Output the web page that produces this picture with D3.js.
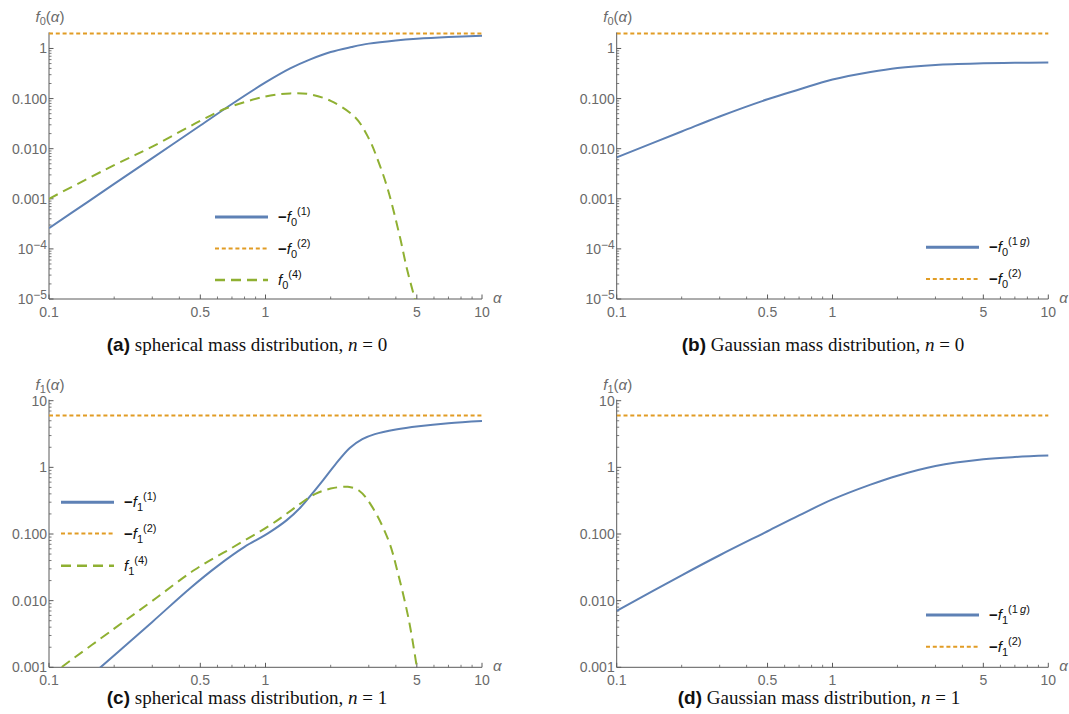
<!DOCTYPE html>
<html>
<head>
<meta charset="utf-8">
<script src="https://cdn.jsdelivr.net/npm/d3@7.8.5/dist/d3.min.js"></script>
<style>
  body { margin: 0; background: #fff; }
  svg { display: block; }
  .tick-label { font-family: 'Liberation Sans', Arial, sans-serif; font-size: 14px; fill: #6a6a6a; }
  .axis-name { font-family: 'Liberation Sans', Arial, sans-serif; font-size: 15px; fill: #6a6a6a; }
  .legend-text { font-family: 'Liberation Sans', Arial, sans-serif; font-size: 15px; fill: #111; }
  .caption { font-family: 'Liberation Serif', 'Times New Roman', serif; font-size: 19px; fill: #111; }
</style>
</head>
<body>
<svg id="fig" width="1069" height="714"></svg>
<script>
// ---- values ----
const alphaTicks = [0.1, 0.5, 1, 5, 10];
const alphaTickLabels = ["0.1", "0.5", "1", "5", "10"];
const yTicksN0 = [1e-5, 1e-4, 1e-3, 1e-2, 1e-1, 1];
const yTickLabelsN0 = ["10^-5", "10^-4", "0.001", "0.010", "0.100", "1"];
const yTicksN1 = [1e-3, 1e-2, 1e-1, 1, 10];
const yTickLabelsN1 = ["0.001", "0.010", "0.100", "1", "10"];

// (a) spherical, n = 0
const sphN0Alpha = [0.1, 0.15, 0.2, 0.3, 0.5, 0.7, 1, 1.3, 1.6, 2, 2.5, 3, 4, 5, 7, 10];
const sphN0F1    = [2.6e-4, 8.5e-4, 1.98e-3, 6.5e-3, 0.029, 0.078, 0.21, 0.4, 0.6, 0.85, 1.07, 1.25, 1.45, 1.57, 1.7, 1.8];
const sphN0F4Alpha = [0.1, 0.2, 0.3, 0.5, 0.66, 1, 1.3, 1.6, 2, 2.6, 3, 3.3, 3.68, 4.18, 4.5, 4.9];
const sphN0F4      = [0.001, 0.0047, 0.011, 0.036, 0.064, 0.11, 0.127, 0.122, 0.09, 0.042, 0.016, 0.006, 0.0015, 1.7e-4, 4e-5, 1e-5];
const sphN0F2 = 2;

// (b) Gaussian, n = 0
const gauN0Alpha = [0.1, 0.2, 0.3, 0.5, 0.7, 1, 1.5, 2, 3, 5, 7, 10];
const gauN0F1g   = [0.0067, 0.022, 0.044, 0.097, 0.152, 0.24, 0.34, 0.41, 0.47, 0.505, 0.518, 0.525];
const gauN0F2 = 2;

// (c) spherical, n = 1
const sphN1Alpha = [0.1, 0.173, 0.3, 0.45, 0.6, 0.8, 1.03, 1.25, 1.45, 1.65, 1.85, 2.1, 2.45, 2.8, 3.2, 4, 5.1, 7, 10];
const sphN1F1    = [2.1e-4, 0.001, 0.0048, 0.0155, 0.033, 0.064, 0.103, 0.16, 0.25, 0.41, 0.65, 1.1, 1.95, 2.65, 3.15, 3.7, 4.15, 4.6, 4.95];
const sphN1F4Alpha = [0.1, 0.114, 0.2, 0.3, 0.469, 0.7, 1.03, 1.3, 1.5, 1.7, 2.0, 2.4, 2.7, 3.1, 3.7, 4.1, 4.6, 5.0];
const sphN1F4      = [7.3e-4, 0.001, 0.0038, 0.0099, 0.0288, 0.062, 0.13, 0.22, 0.31, 0.4, 0.48, 0.51, 0.45, 0.26, 0.08, 0.025, 0.005, 0.001];
const sphN1F2 = 6;

// (d) Gaussian, n = 1
const gauN1Alpha = [0.1, 0.2, 0.3, 0.5, 0.7, 1, 1.5, 2, 3, 5, 7, 10];
const gauN1F1g   = [0.007, 0.024, 0.048, 0.11, 0.19, 0.33, 0.55, 0.75, 1.05, 1.32, 1.43, 1.5];
const gauN1F2 = 6;

// ---- styles ----
const BLUE = "#5e81b5", ORANGE = "#e19c24", GREEN = "#8fb032";
const AXIS = "#5a5a5a";

const svg = d3.select("#fig");

const panels = [
  { id: "a", x0: 49, x1: 482, yTop: 33.4, yBot: 299, yDomain: [1e-5, 2], n: "0",
    yTicks: yTicksN0, yLabels: yTickLabelsN0,
    curves: [
      { a: sphN0Alpha, v: sphN0F1, kind: "solid" },
      { a: [0.1, 10], v: [sphN0F2, sphN0F2], kind: "dot" },
      { a: sphN0F4Alpha, v: sphN0F4, kind: "dash" }
    ],
    legend: { x: 215, rows: [217, 248.5, 280], items: [["−", "(1)", "solid"], ["−", "(2)", "dot"], ["", "(4)", "dash"]] },
    caption: { x: 247, y: 351, tag: "(a)", text: " spherical mass distribution, " } },
  { id: "b", x0: 616.7, x1: 1048.3, yTop: 33.4, yBot: 299, yDomain: [1e-5, 2], n: "0",
    yTicks: yTicksN0, yLabels: yTickLabelsN0,
    curves: [
      { a: gauN0Alpha, v: gauN0F1g, kind: "solid" },
      { a: [0.1, 10], v: [gauN0F2, gauN0F2], kind: "dot" }
    ],
    legend: { x: 926, rows: [247.3, 279], items: [["−", "(1g)", "solid"], ["−", "(2)", "dot"]] },
    caption: { x: 823, y: 351, tag: "(b)", text: " Gaussian mass distribution, " } },
  { id: "c", x0: 49, x1: 482, yTop: 400.7, yBot: 667.3, yDomain: [1e-3, 10], n: "1",
    yTicks: yTicksN1, yLabels: yTickLabelsN1,
    curves: [
      { a: sphN1Alpha, v: sphN1F1, kind: "solid" },
      { a: [0.1, 10], v: [sphN1F2, sphN1F2], kind: "dot" },
      { a: sphN1F4Alpha, v: sphN1F4, kind: "dash" }
    ],
    legend: { x: 61, rows: [502.3, 533.5, 565.7], items: [["−", "(1)", "solid"], ["−", "(2)", "dot"], ["", "(4)", "dash"]] },
    caption: { x: 247, y: 704, tag: "(c)", text: " spherical mass distribution, " } },
  { id: "d", x0: 616.7, x1: 1048.3, yTop: 400.7, yBot: 667.3, yDomain: [1e-3, 10], n: "1",
    yTicks: yTicksN1, yLabels: yTickLabelsN1,
    curves: [
      { a: gauN1Alpha, v: gauN1F1g, kind: "solid" },
      { a: [0.1, 10], v: [gauN1F2, gauN1F2], kind: "dot" }
    ],
    legend: { x: 926, rows: [615, 646.7], items: [["−", "(1g)", "solid"], ["−", "(2)", "dot"]] },
    caption: { x: 819, y: 704, tag: "(d)", text: " Gaussian mass distribution, " } }
];

function styleLine(sel, kind, legend) {
  if (kind === "solid") sel.attr("stroke", BLUE).attr("stroke-width", legend ? 3 : 2);
  if (kind === "dot") sel.attr("stroke", ORANGE).attr("stroke-width", 2).attr("stroke-dasharray", "4,2.8");
  if (kind === "dash") sel.attr("stroke", GREEN).attr("stroke-width", legend ? 2.4 : 2).attr("stroke-dasharray", "10,6");
  return sel.attr("fill", "none");
}

// f with subscript and superscript, e.g. -f0^(1)
function fSymbol(g, x, y, sign, sub, sup, cls) {
  const t = g.append("text").attr("class", cls).attr("x", x).attr("y", y);
  if (sign) t.append("tspan").attr("font-weight", "bold").text(sign);
  t.append("tspan").attr("font-style", "italic").text("f");
  t.append("tspan").attr("font-size", "11px").attr("dy", 4).text(sub);
  if (sup) {
    const s = t.append("tspan").attr("font-size", "11px").attr("dy", -11);
    if (sup === "(1g)") {
      s.text("(1\u2009");
      t.append("tspan").attr("font-size", "11px").attr("font-style", "italic").text("g");
      t.append("tspan").attr("font-size", "11px").text(")");
    } else {
      s.text(sup);
    }
  }
  return t;
}

panels.forEach(p => {
  const x = d3.scaleLog().domain([0.1, 10]).range([p.x0, p.x1]);
  const y = d3.scaleLog().domain(p.yDomain).range([p.yBot, p.yTop]);
  const g = svg.append("g");

  // clip for curves
  const clipId = "clip-" + p.id;
  svg.append("clipPath").attr("id", clipId).append("rect")
    .attr("x", p.x0).attr("y", p.yTop - 4).attr("width", p.x1 - p.x0 + 2).attr("height", p.yBot - p.yTop + 4);

  // minor ticks
  const xMinor = [];
  [0.1, 1].forEach(d => { for (let k = 2; k <= 9; k++) xMinor.push(d * k); });
  const yMinor = [];
  const lo = Math.round(Math.log10(p.yDomain[0]));
  for (let e = lo; e < 2; e++) for (let k = 2; k <= 9; k++) {
    const v = k * Math.pow(10, e);
    if (v <= p.yDomain[1]) yMinor.push(v);
  }

  // x axis
  g.append("line").attr("x1", p.x0).attr("x2", p.x1).attr("y1", p.yBot).attr("y2", p.yBot)
    .attr("stroke", AXIS).attr("stroke-width", 1);
  g.selectAll(null).data(xMinor.filter(v => !alphaTicks.includes(v))).join("line")
    .attr("x1", d => x(d)).attr("x2", d => x(d)).attr("y1", p.yBot).attr("y2", p.yBot - 2.5)
    .attr("stroke", AXIS).attr("stroke-width", 0.8);
  g.selectAll(null).data(alphaTicks).join("line")
    .attr("x1", d => x(d)).attr("x2", d => x(d)).attr("y1", p.yBot).attr("y2", p.yBot - 4.5)
    .attr("stroke", AXIS).attr("stroke-width", 1);
  g.selectAll(null).data(alphaTicks).join("text").attr("class", "tick-label")
    .attr("x", d => x(d)).attr("y", p.yBot + 18).attr("text-anchor", "middle")
    .text((d, i) => alphaTickLabels[i]);
  g.append("text").attr("class", "axis-name").attr("font-style", "italic")
    .attr("x", p.x1 + 11).attr("y", p.yBot + 4).text("α");

  // y axis
  g.append("line").attr("x1", p.x0).attr("x2", p.x0).attr("y1", p.yTop - 1).attr("y2", p.yBot)
    .attr("stroke", AXIS).attr("stroke-width", 1);
  g.selectAll(null).data(yMinor).join("line")
    .attr("x1", p.x0).attr("x2", p.x0 + 2.5).attr("y1", d => y(d)).attr("y2", d => y(d))
    .attr("stroke", AXIS).attr("stroke-width", 0.8);
  g.selectAll(null).data(p.yTicks).join("line")
    .attr("x1", p.x0).attr("x2", p.x0 + 4.5).attr("y1", d => y(d)).attr("y2", d => y(d))
    .attr("stroke", AXIS).attr("stroke-width", 1);
  p.yTicks.forEach((v, i) => {
    const lab = p.yLabels[i];
    const t = g.append("text").attr("class", "tick-label").attr("text-anchor", "end")
      .attr("x", p.x0 - 2).attr("y", y(v) + 5);
    if (lab.startsWith("10^")) {
      t.append("tspan").text("10");
      t.append("tspan").attr("font-size", "12px").attr("dy", -5).text(lab.slice(3).replace("-", "−"));
    } else {
      t.text(lab);
    }
  });
  const yl = g.append("text").attr("class", "axis-name").attr("text-anchor", "middle")
    .attr("x", p.x0 + 1).attr("y", p.yTop - 11);
  yl.append("tspan").attr("font-style", "italic").text("f");
  yl.append("tspan").attr("font-size", "11px").attr("dy", 3).text(p.n);
  yl.append("tspan").attr("dy", -3).text("(");
  yl.append("tspan").attr("font-style", "italic").text("α");
  yl.append("tspan").text(")");

  // curves
  const line = d3.line().x(d => x(d[0])).y(d => y(d[1])).curve(d3.curveCatmullRom.alpha(0.5));
  const cg = g.append("g").attr("clip-path", `url(#${clipId})`);
  p.curves.forEach(c => {
    const pts = c.a.map((a, i) => [a, c.v[i]]);
    styleLine(cg.append("path").attr("d", line(pts)), c.kind, false);
  });

  // legend
  p.legend.items.forEach((it, i) => {
    const ry = p.legend.rows[i];
    styleLine(g.append("line").attr("x1", p.legend.x).attr("x2", p.legend.x + 53)
      .attr("y1", ry).attr("y2", ry), it[2], true);
    fSymbol(g, p.legend.x + 63, ry + 5, it[0], p.n, it[1], "legend-text");
  });

  // caption
  const cap = g.append("text").attr("class", "caption").attr("x", p.caption.x).attr("y", p.caption.y)
    .attr("text-anchor", "middle");
  cap.append("tspan").attr("font-family", "'Liberation Sans', Arial, sans-serif").attr("font-weight", "bold")
    .text(p.caption.tag);
  cap.append("tspan").text(p.caption.text);
  cap.append("tspan").attr("font-style", "italic").text("n");
  cap.append("tspan").text(" = " + p.n);
});
</script>
</body>
</html>
